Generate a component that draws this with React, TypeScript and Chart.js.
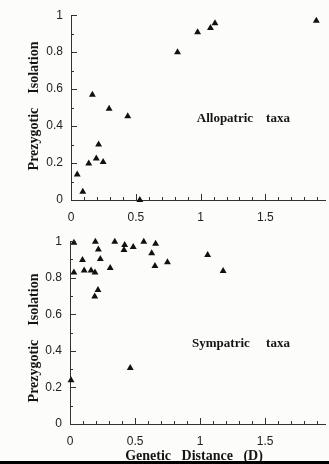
import React, { useEffect, useRef } from "react";
import { Chart, registerables } from "chart.js";

Chart.register(...registerables);

// ---- Data ----
const allopatricD = [0.048, 0.091, 0.137, 0.165, 0.195, 0.213, 0.248, 0.294, 0.438, 0.531, 0.822, 0.977, 1.076, 1.111, 1.893];
const allopatricPI = [0.138, 0.044, 0.198, 0.57, 0.225, 0.301, 0.206, 0.494, 0.453, 0.0, 0.8, 0.908, 0.931, 0.956, 0.97];

const sympatricD = [0.03, 0.03, 0.096, 0.109, 0.162, 0.192, 0.195, 0.218, 0.233, 0.19, 0.215, 0.309, 0.344, 0.42, 0.415, 0.486, 0.567, 0.658, 0.628, 0.653, 0.749, 1.058, 1.177, 0.008, 0.463];
const sympatricPI = [0.991, 0.829, 0.897, 0.84, 0.84, 0.829, 0.997, 0.954, 0.902, 0.698, 0.733, 0.854, 0.997, 0.979, 0.952, 0.968, 0.997, 0.986, 0.934, 0.865, 0.885, 0.924, 0.837, 0.24, 0.306];

const xMajorTicks = [0, 0.5, 1, 1.5];
const xTickLabels = ["0", "0.5", "1", "1.5"];
const xMinorTicks = [0.1, 0.2, 0.3, 0.4, 0.6, 0.7, 0.8, 0.9, 1.1, 1.2, 1.3, 1.4, 1.6, 1.7, 1.8, 1.9];
const yMajorTicks = [0, 0.2, 0.4, 0.6, 0.8, 1];
const yTickLabels = ["0", "0.2", "0.4", "0.6", "0.8", "1"];
const yMinorTicks = [0.1, 0.3, 0.5, 0.7, 0.9];

const yTitle = "Prezygotic    Isolation";
const xTitle = "Genetic   Distance   (D)";
const topLabel = "Allopatric    taxa";
const bottomLabel = "Sympatric     taxa";

const X_MAX = 1.96;

const inwardTicks = {
  id: "inwardTicks",
  afterDraw(chart: any) {
    const { ctx, chartArea } = chart;
    const xs = chart.scales.x;
    const ys = chart.scales.y;
    ctx.save();
    ctx.strokeStyle = "#333";
    ctx.lineWidth = 1;
    const drawX = (vals: number[], len: number) => {
      vals.forEach((v) => {
        const px = Math.round(xs.getPixelForValue(v)) + 0.5;
        ctx.beginPath();
        ctx.moveTo(px, chartArea.bottom);
        ctx.lineTo(px, chartArea.bottom - len);
        ctx.stroke();
      });
    };
    const drawY = (vals: number[], len: number) => {
      vals.forEach((v) => {
        const py = Math.round(ys.getPixelForValue(v)) + 0.5;
        ctx.beginPath();
        ctx.moveTo(chartArea.left, py);
        ctx.lineTo(chartArea.left + len, py);
        ctx.stroke();
      });
    };
    drawX(xMajorTicks, 6);
    drawX(xMinorTicks, 3);
    drawY(yMajorTicks, 6);
    drawY(yMinorTicks, 3);
    ctx.restore();
  },
};

const annotations = {
  id: "annot",
  afterDraw(chart: any, _args: any, opts: any) {
    const { ctx } = chart;
    const xs = chart.scales.x;
    const ys = chart.scales.y;
    ctx.save();
    ctx.fillStyle = "#151515";
    ctx.textAlign = "center";
    ctx.textBaseline = "middle";
    ctx.font = "bold 14px 'Liberation Serif', serif";
    ctx.save();
    ctx.translate(opts.yTitleX, opts.yTitleY);
    ctx.rotate(-Math.PI / 2);
    ctx.fillText(yTitle, 0, 0);
    ctx.restore();
    ctx.font = "bold 13px 'Liberation Serif', serif";
    ctx.fillText(opts.label, xs.getPixelForValue(opts.labelX), ys.getPixelForValue(opts.labelY));
    if (opts.showXTitle) {
      ctx.font = "bold 14px 'Liberation Serif', serif";
      ctx.fillText(xTitle, opts.xTitleX, opts.xTitleY);
    }
    ctx.restore();
  },
};

function makeConfig(xsData: number[], ysData: number[], p: any): any {
  return {
    type: "scatter",
    data: {
      datasets: [
        {
          data: xsData.map((x, i) => ({ x, y: ysData[i] })),
          pointStyle: "triangle",
          pointRadius: 4,
          pointBackgroundColor: "#111",
          pointBorderWidth: 0,
          clip: false,
        },
      ],
    },
    options: {
      responsive: false,
      animation: false,
      devicePixelRatio: 1,
      layout: { padding: { top: p.padTop, right: 0, left: 0, bottom: 0 } },
      plugins: {
        legend: { display: false },
        tooltip: { enabled: false },
        annot: p.annot,
      },
      scales: {
        x: {
          type: "linear",
          min: 0,
          max: X_MAX,
          afterBuildTicks: (s: any) => {
            s.ticks = xMajorTicks.map((v) => ({ value: v }));
          },
          afterFit: (s: any) => {
            s.height = p.xHeight;
          },
          grid: { display: false, drawTicks: false },
          border: { display: true, color: "#333", width: 1 },
          ticks: {
            autoSkip: false,
            maxRotation: 0,
            padding: 10,
            color: "#222",
            font: { family: "'Liberation Sans', Arial, sans-serif", size: 12 },
            callback: (_v: any, i: number) => xTickLabels[i],
          },
        },
        y: {
          type: "linear",
          min: 0,
          max: 1,
          afterBuildTicks: (s: any) => {
            s.ticks = yMajorTicks.map((v) => ({ value: v }));
          },
          afterFit: (s: any) => {
            s.width = p.yWidth;
          },
          grid: { display: false, drawTicks: false },
          border: { display: true, color: "#333", width: 1 },
          ticks: {
            autoSkip: false,
            padding: 8,
            color: "#222",
            font: { family: "'Liberation Sans', Arial, sans-serif", size: 12 },
            callback: (_v: any, i: number) => yTickLabels[i],
          },
        },
      },
    },
    plugins: [inwardTicks, annotations],
  };
}

export default function App() {
  const topRef = useRef<HTMLCanvasElement>(null);
  const botRef = useRef<HTMLCanvasElement>(null);

  useEffect(() => {
    document.body.style.margin = "0";
    const c1 = new Chart(
      topRef.current as HTMLCanvasElement,
      makeConfig(allopatricD, allopatricPI, {
        padTop: 12,
        xHeight: 26,
        yWidth: 71,
        annot: { yTitleX: 34, yTitleY: 106, label: topLabel, labelX: 1.33, labelY: 0.44, showXTitle: false },
      })
    );
    const c2 = new Chart(
      botRef.current as HTMLCanvasElement,
      makeConfig(sympatricD, sympatricPI, {
        padTop: 10.7,
        xHeight: 40,
        yWidth: 70,
        annot: {
          yTitleX: 34,
          yTitleY: 112,
          label: bottomLabel,
          labelX: 1.314,
          labelY: 0.438,
          showXTitle: true,
          xTitleX: 194,
          xTitleY: 230,
        },
      })
    );
    return () => {
      c1.destroy();
      c2.destroy();
    };
  }, []);

  return (
    <div style={{ position: "absolute", left: 0, top: 0, width: 329, height: 464, background: "#fcfcfa", overflow: "hidden" }}>
      <canvas ref={topRef} width={329} height={226} style={{ position: "absolute", left: 0, top: 0, width: 329, height: 226 }} />
      <canvas ref={botRef} width={329} height={238} style={{ position: "absolute", left: 0, top: 226, width: 329, height: 238 }} />
      <div style={{ position: "absolute", left: 0, top: 461, width: 329, height: 3, background: "#000" }} />
    </div>
  );
}
